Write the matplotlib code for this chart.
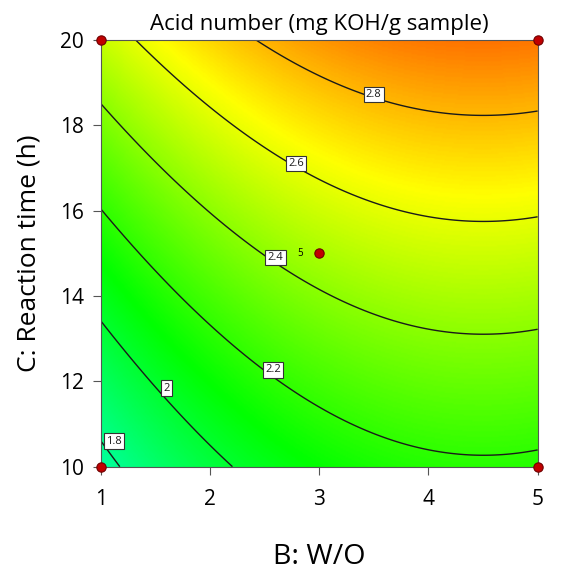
import numpy as np
import matplotlib
matplotlib.use("Agg")
import matplotlib.pyplot as plt
from matplotlib.colors import LinearSegmentedColormap

plt.rcParams['font.family'] = ['Open Sans', 'DejaVu Sans']

# quadratic model: f = a + b*B + c*C + d*B^2 + e*C^2
coef_a = 0.9034
coef_b = 0.3107
coef_c = 0.0485
coef_d = -0.0345
coef_e = 0.00094

levels = [1.8, 2.0, 2.2, 2.4, 2.6, 2.8]
label_pos = [(1.12, 10.6), (1.60, 11.84), (2.58, 12.27), (2.60, 14.90), (2.79, 17.11), (3.50, 18.73)]

design_b = [1, 1, 5, 5, 3]
design_c = [10, 20, 10, 20, 15]

def Response(B, C):
    return coef_a + coef_b*B + coef_c*C + coef_d*B**2 + coef_e*C**2

def main():
    b = np.linspace(1, 5, 300)
    c = np.linspace(10, 20, 300)
    BB, CC = np.meshgrid(b, c)
    Z = Response(BB, CC)

    cmap = LinearSegmentedColormap.from_list(
        'de', ['#0000ff', '#00ffff', '#00ff00', '#ffff00', '#ff0000'])

    fig = plt.figure(figsize=(5.85, 5.74), dpi=100)
    ax = fig.add_axes([0.172, 0.187, 0.747, 0.743])
    ax.imshow(Z, extent=[1, 5, 10, 20], origin='lower', aspect='auto',
              cmap=cmap, vmin=1.0, vmax=3.2, interpolation='bilinear')
    cs = ax.contour(BB, CC, Z, levels=levels, colors='#1a1a1a', linewidths=1.0)
    labels = ax.clabel(cs, fmt='%g', fontsize=8, inline=False, manual=label_pos)
    for t in labels:
        # snap each label back to where it sits in the reference
        val = float(t.get_text())
        t.set_position(label_pos[levels.index(min(levels, key=lambda l: abs(l - val)))])
        t.set_rotation(0)
        t.set_bbox(dict(boxstyle='square,pad=0.2', facecolor='white',
                        edgecolor='#333333', linewidth=0.8))
        t.set_zorder(5)

    ax.scatter(design_b, design_c, s=45, color='#c00000', edgecolors='#700000',
               linewidths=0.8, zorder=6, clip_on=False)
    ax.text(2.85, 15, '5', fontsize=7, ha='right', va='center', zorder=6)

    ax.set_xlim(1, 5)
    ax.set_ylim(10, 20)
    ax.set_xticks([1, 2, 3, 4, 5])
    ax.set_yticks([10, 12, 14, 16, 18, 20])
    ax.tick_params(labelsize=15, length=6, color='#555555')
    ax.tick_params(axis='x', pad=10)
    ax.tick_params(axis='y', pad=6)
    for s in ax.spines.values():
        s.set_color('#555555')
    ax.set_xlabel('B: W/O', fontsize=20.5, labelpad=24)
    ax.set_ylabel('C: Reaction time (h)', fontsize=19, labelpad=13)
    ax.set_title('Acid number (mg KOH/g sample)', fontsize=16, pad=7)

    fig.savefig('out.png', dpi=100)

if __name__ == "__main__":
    main()
